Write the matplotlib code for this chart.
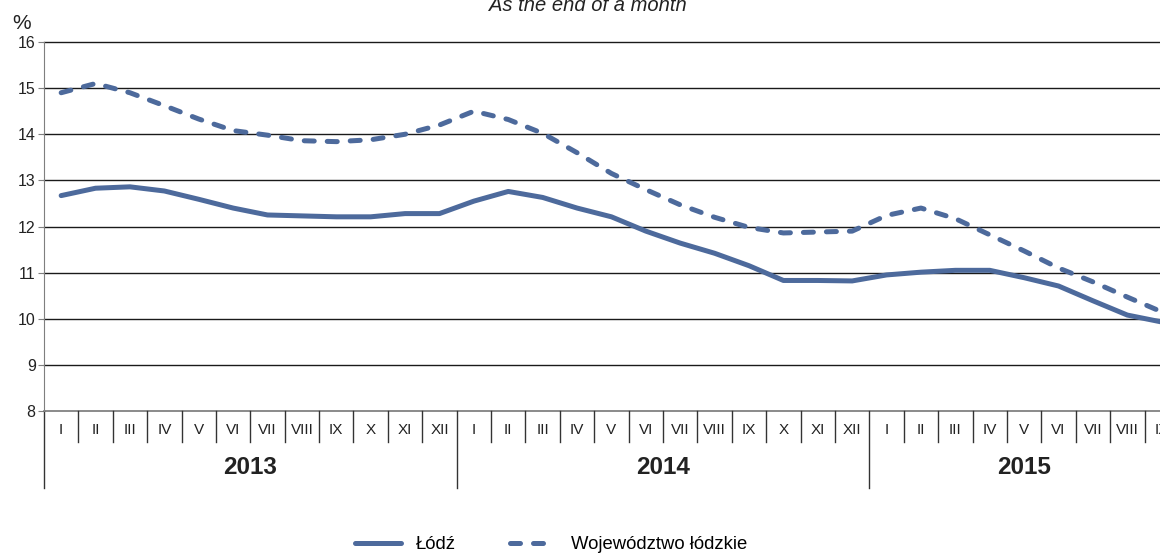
import numpy as np
import matplotlib
matplotlib.use("Agg")
import matplotlib.pyplot as plt
import matplotlib.transforms as mtransforms

plt.rcParams['font.family'] = ['Liberation Sans', 'DejaVu Sans']

# Dane: stopa bezrobocia (%), 2013 I - 2015 IX
months = ['I', 'II', 'III', 'IV', 'V', 'VI', 'VII', 'VIII', 'IX', 'X', 'XI', 'XII']
years = ['2013', '2014', '2015']
months_per_year = [12, 12, 9]

lodz = [12.67, 12.83, 12.86, 12.77, 12.59, 12.40, 12.25, 12.23, 12.21, 12.21, 12.28, 12.28,
        12.55, 12.76, 12.63, 12.40, 12.21, 11.90, 11.64, 11.42, 11.15, 10.83, 10.83, 10.82,
        10.95, 11.01, 11.05, 11.05, 10.89, 10.71, 10.39, 10.08, 9.93]
wojewodztwo = [14.90, 15.10, 14.90, 14.62, 14.33, 14.08, 13.98, 13.86, 13.84, 13.88, 14.00, 14.20,
               14.50, 14.32, 14.02, 13.60, 13.15, 12.80, 12.47, 12.20, 11.98, 11.86, 11.88, 11.90,
               12.24, 12.40, 12.17, 11.82, 11.47, 11.10, 10.80, 10.47, 10.15]

color = '#4D6A9C'
n = len(lodz)
x = np.arange(n)

fig = plt.figure(figsize=(11.6, 5.57), dpi=100)
ax = fig.add_axes([0.0379, 0.2621, 0.9784, 0.6625])

l1, = ax.plot(x, lodz, color=color, lw=3.6, solid_capstyle='round',
              solid_joinstyle='round', label='Łódź', zorder=3)
l2, = ax.plot(x, wojewodztwo, color=color, lw=3.6, dashes=(2.0, 2.6),
              dash_capstyle='round', dash_joinstyle='round', label='Województwo łódzkie',
              zorder=3)

ax.set_xlim(-0.5, n - 0.5)
ax.set_ylim(8, 16)
ax.set_yticks(range(8, 17))
for v in range(9, 17):
    ax.axhline(v, color='#1a1a1a', lw=1.0, zorder=1, clip_on=False)
ax.axhline(8, color='#777777', lw=1.2, zorder=1, clip_on=False)
ax.set_xticks([])
for s in ['top', 'right', 'bottom']:
    ax.spines[s].set_visible(False)
ax.spines['left'].set_color('#7f7f7f')
ax.tick_params(axis='y', length=4, color='#7f7f7f', labelsize=11.5, pad=2,
               labelcolor='#222222')

# os kategorii: miesiace i lata
trans = mtransforms.blended_transform_factory(ax.transData, ax.transAxes)
labels = []
for cnt in months_per_year:
    labels += months[:cnt]
year_starts = np.cumsum([0] + months_per_year[:-1])
for i in range(n):
    long_line = i in year_starts
    ax.plot([i - 0.5, i - 0.5], [0, -0.2087 if long_line else -0.084], color='#333333',
            lw=1, transform=trans, clip_on=False)
    ax.text(i, -0.0515, labels[i], transform=trans, ha='center', va='center',
            fontsize=11, color='#222222')
start = 0
for yr, cnt in zip(years, months_per_year):
    ax.text(start + (cnt - 1) / 2, -0.152, yr, transform=trans, ha='center', va='center',
            fontsize=17.5, fontweight='bold', color='#222222')
    start += cnt

fig.text(0.507, 0.980, 'As the end of a month', ha='center', va='baseline',
         fontsize=14.5, style='italic', color='#222222')
fig.text(0.0103, 0.948, '%', ha='left', va='baseline', fontsize=15, color='#222222')

fig.legend(handles=[l1, l2], loc='center', bbox_to_anchor=(0.475, 0.022), ncol=2,
           frameon=False, fontsize=13.3, handlelength=2.5, handletextpad=0.8,
           columnspacing=2.9)

fig.savefig('out.png', dpi=100)
